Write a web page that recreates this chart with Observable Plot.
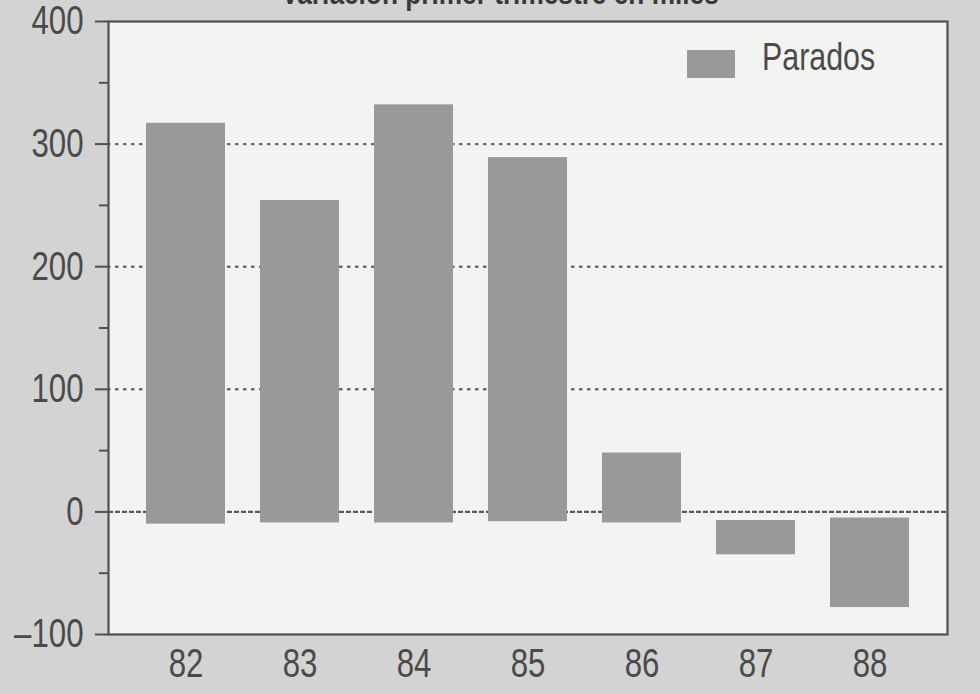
<!DOCTYPE html>
<html>
<head>
<meta charset="utf-8">
<script src="https://cdn.jsdelivr.net/npm/d3@7"></script>
<script src="https://cdn.jsdelivr.net/npm/@observablehq/plot@0.6"></script>
<style>
  html, body { margin: 0; padding: 0; background: #d3d3d3; }
  #wrap { position: relative; width: 980px; height: 694px; overflow: hidden;
          font-family: "Liberation Sans", Arial, sans-serif; color: #4a4a4a; }
  #title { position: absolute; left: 0; width: 1000px; top: -25px; text-align: center;
           font-weight: bold; font-size: 32px; color: #3a3a3a;
           transform: scaleX(0.82); transform-origin: 500px 0; }
  #legend { position: absolute; left: 687px; top: 36px; display: flex; align-items: center; }
  #legend .sw { width: 48px; height: 28px; background: #999; margin-right: 27px; margin-top: 12px; }
  #legend .lb { font-size: 38px; color: #4a4a4a; transform: scaleX(0.8); transform-origin: 0 50%; }
  svg { position: absolute; left: 0; top: 0; }
</style>
</head>
<body>
<div id="wrap">
  <div id="title">Variación primer trimestre en miles</div>
</div>
<script>
// Data (thousands)
const years   = ["82", "83", "84", "85", "86", "87", "88"];
const barTop  = [317, 254, 332, 289, 48, -7, -5];
const barBase = [-10, -9, -9, -8, -9, -35, -78];
const yTicks  = [-100, 0, 100, 200, 300, 400];
const yMinor  = [-50, 50, 150, 250, 350];
const gridY   = [100, 200, 300];
const seriesName = "Parados";

const rows = years.map((y, i) => ({year: y, hi: barTop[i], lo: barBase[i]}));

const font = '"Liberation Sans", Arial, sans-serif';

const chart = Plot.plot({
  width: 980,
  height: 694,
  marginLeft: 108,
  marginRight: 33,
  marginTop: 21,
  marginBottom: 60,
  style: {background: "transparent", fontFamily: font, color: "#4a4a4a"},
  x: {domain: years, paddingInner: 0.31, paddingOuter: 0.32, label: null},
  y: {domain: [-100, 400], label: null},
  marks: [
    Plot.frame({fill: "#f3f3f1", stroke: null}),
    Plot.ruleY(gridY, {stroke: "#6a6a6a", strokeWidth: 2.4, strokeDasharray: "1.5,6.5", strokeLinecap: "round"}),
    Plot.ruleY([0], {stroke: "#5a5a5a", strokeWidth: 2.2, strokeDasharray: "5,2"}),
    Plot.barY(rows, {x: "year", y1: "lo", y2: "hi", fill: "#999999"}),
    Plot.frame({stroke: "#505050", strokeWidth: 2.2}),
    Plot.axisY(yMinor, {tickSize: 9, tickFormat: () => "", stroke: "#505050", strokeWidth: 2}),
    Plot.axisY(yTicks, {tickSize: 13, tickPadding: 12, fontSize: 40, stroke: "#505050", strokeWidth: 2,
                        tickFormat: d => d < 0 ? "\u2013" + Math.abs(d) : String(d), fill: "#4a4a4a"}),
    Plot.axisX(years, {tickSize: 0, tickPadding: 14, fontSize: 40, fill: "#4a4a4a"})
  ]
});

// Condense the axis labels horizontally (narrow grotesque look of the print)
chart.querySelectorAll("text").forEach(t => {
  const tr = t.getAttribute("transform");
  if (tr) {
    t.setAttribute("transform", tr + " scale(0.78,1)");
  } else {
    const x = +t.getAttribute("x") || 0, y = +t.getAttribute("y") || 0;
    t.removeAttribute("x"); t.removeAttribute("y");
    t.setAttribute("transform", `translate(${x},${y}) scale(0.78,1)`);
  }
});

const wrap = document.getElementById("wrap");
wrap.appendChild(chart);

const legend = document.createElement("div");
legend.id = "legend";
legend.innerHTML = '<div class="sw"></div><div class="lb"></div>';
legend.querySelector(".lb").textContent = seriesName;
wrap.appendChild(legend);
</script>
</body>
</html>
